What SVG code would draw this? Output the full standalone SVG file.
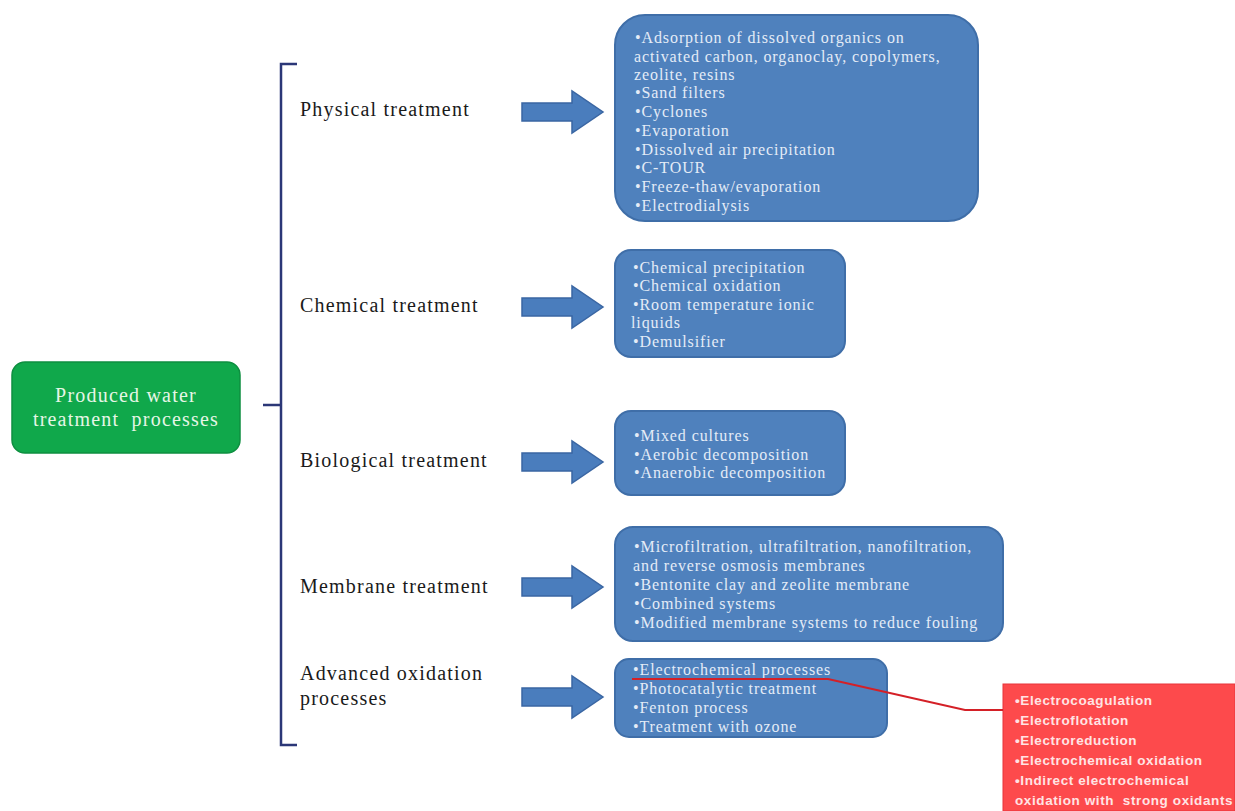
<svg xmlns="http://www.w3.org/2000/svg" width="1235" height="811" viewBox="0 0 1235 811">
<defs>
<style>
.lbl{font-family:"Liberation Serif",serif;font-size:20px;letter-spacing:1.2px;fill:#1a1a1a}
.bx{fill:#4f81bd;stroke:#3f6ea8;stroke-width:2}
.bt{font-family:"Liberation Serif",serif;font-size:16px;letter-spacing:0.9px;fill:#e4ecf7}
.rt{font-family:"Liberation Sans",sans-serif;font-size:13.5px;font-weight:bold;letter-spacing:0.6px;fill:#ffe4e4}
.arr{fill:#4a7dbd;stroke:#3a66a3;stroke-width:1.5}
.gt{font-family:"Liberation Serif",serif;font-size:20px;letter-spacing:1.2px;fill:#e6f6e6}
</style>
<path id="ar" d="M0,-9 H50 V-21 L81,0 L50,21 V9 H0 Z"/>
</defs>
<rect width="1235" height="811" fill="#ffffff"/>

<g id="root">
<rect x="12" y="362" width="228" height="91" rx="13" fill="#10a84b" stroke="#0e8f40" stroke-width="1.5"/>
<text class="gt" x="126" y="402" text-anchor="middle">Produced water</text>
<text class="gt" x="126" y="426" text-anchor="middle" xml:space="preserve">treatment  processes</text>
</g>

<g id="physical">
<text class="lbl" x="300" y="116">Physical treatment</text>
<rect class="bx" x="615" y="15" width="363" height="206" rx="30"/>
<text class="bt" x="635" y="43">•Adsorption of dissolved organics on</text>
<text class="bt" x="634" y="62">activated carbon, organoclay, copolymers,</text>
<text class="bt" x="634" y="80">zeolite, resins</text>
<text class="bt" x="635" y="98">•Sand filters</text>
<text class="bt" x="635" y="117">•Cyclones</text>
<text class="bt" x="635" y="136">•Evaporation</text>
<text class="bt" x="635" y="155">•Dissolved air precipitation</text>
<text class="bt" x="635" y="173">•C-TOUR</text>
<text class="bt" x="635" y="192">•Freeze-thaw/evaporation</text>
<text class="bt" x="635" y="211">•Electrodialysis</text>
</g>

<g id="chemical">
<text class="lbl" x="300" y="312">Chemical treatment</text>
<rect class="bx" x="615" y="250" width="230" height="107" rx="16"/>
<text class="bt" x="633" y="273">•Chemical precipitation</text>
<text class="bt" x="633" y="291">•Chemical oxidation</text>
<text class="bt" x="633" y="310">•Room temperature ionic</text>
<text class="bt" x="631" y="328">liquids</text>
<text class="bt" x="633" y="347">•Demulsifier</text>
</g>

<g id="biological">
<text class="lbl" x="300" y="467">Biological treatment</text>
<rect class="bx" x="615" y="411" width="230" height="84" rx="16"/>
<text class="bt" x="634" y="441">•Mixed cultures</text>
<text class="bt" x="634" y="460">•Aerobic decomposition</text>
<text class="bt" x="634" y="478">•Anaerobic decomposition</text>
</g>

<g id="membrane">
<text class="lbl" x="300" y="593">Membrane treatment</text>
<rect class="bx" x="615" y="527" width="388" height="114" rx="18"/>
<text class="bt" x="634" y="552">•Microfiltration, ultrafiltration, nanofiltration,</text>
<text class="bt" x="633" y="571">and reverse osmosis membranes</text>
<text class="bt" x="634" y="590">•Bentonite clay and zeolite membrane</text>
<text class="bt" x="634" y="609">•Combined systems</text>
<text class="bt" x="634" y="628">•Modified membrane systems to reduce fouling</text>
</g>

<g id="advanced">
<text class="lbl" x="300" y="680">Advanced oxidation</text>
<text class="lbl" x="300" y="705">processes</text>
<rect class="bx" x="615" y="659" width="272" height="78" rx="14"/>
<text class="bt" x="633" y="675">•Electrochemical processes</text>
<text class="bt" x="633" y="694">•Photocatalytic treatment</text>
<text class="bt" x="633" y="713">•Fenton process</text>
<text class="bt" x="633" y="732">•Treatment with ozone</text>
</g>

<g id="electro">
<rect x="1003" y="684" width="232" height="127" fill="#fd4a4c" stroke="#e8353a" stroke-width="1"/>
<text class="rt" x="1015" y="705">•Electrocoagulation</text>
<text class="rt" x="1015" y="725">•Electroflotation</text>
<text class="rt" x="1015" y="745">•Electroreduction</text>
<text class="rt" x="1015" y="765">•Electrochemical oxidation</text>
<text class="rt" x="1015" y="785">•Indirect electrochemical</text>
<text class="rt" x="1015" y="805" xml:space="preserve">oxidation with  strong oxidants</text>
</g>

<g id="connectors" fill="none">
<path d="M297,64 H281 V745 H297" stroke="#2b3777" stroke-width="2.5"/>
<path d="M263,405 H281" stroke="#2b3777" stroke-width="2.5"/>
<use href="#ar" class="arr" transform="translate(522,112)"/>
<use href="#ar" class="arr" transform="translate(522,307)"/>
<use href="#ar" class="arr" transform="translate(522,462)"/>
<use href="#ar" class="arr" transform="translate(522,587)"/>
<use href="#ar" class="arr" transform="translate(522,697)"/>
<path d="M632,679 H828 L965,710 H1003" stroke="#d42027" stroke-width="2"/>
</g>
</svg>
